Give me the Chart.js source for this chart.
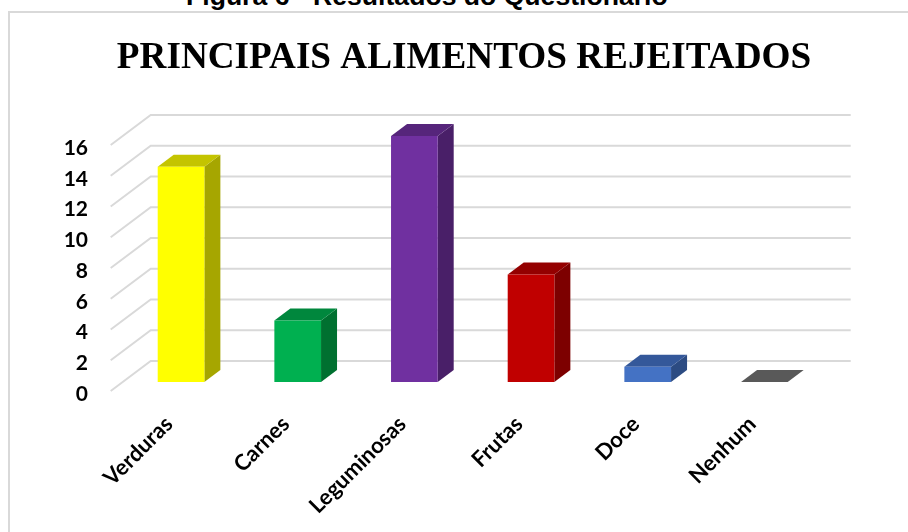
<!DOCTYPE html>
<html>
<head>
<meta charset="utf-8">
<style>
  html, body { margin: 0; padding: 0; background: #fff; overflow: hidden; }
  #caption { position: absolute; left: 186px; top: -19px; font: bold 26.6px "Liberation Sans"; color: #000; white-space: nowrap; }
  #frame { position: absolute; left: 8px; top: 11px; width: 900px; height: 521px; border-left: 2px solid #d9d9d9; border-top: 2px solid #d9d9d9; box-sizing: border-box; }
  #wrap { position: absolute; left: 0; top: 0; width: 908px; height: 532px; }
</style>
<script src="https://cdn.jsdelivr.net/npm/chart.js@4"></script>
</head>
<body>
<div id="caption">Figura 6 - Resultados do Questionário</div>
<div id="frame"></div>
<div id="wrap"><canvas id="myChart" width="908" height="532"></canvas></div>
<script>
var categories = ["Verduras", "Carnes", "Leguminosas", "Frutas", "Doce", "Nenhum"];
var values = [14, 4, 16, 7, 1, 0];
var frontColors = ["#ffff00", "#00b050", "#7030a0", "#c00000", "#4472c4", "#7f7f7f"];
var topColors = ["#c4c400", "#00873d", "#56257b", "#940000", "#34589a", "#595959"];
var sideColors = ["#a6a600", "#007030", "#491f68", "#7d0000", "#2c4b82", "#4c4c4c"];

// depth of the bars and of the floor, in pixels
var barDepth = { x: 16, y: 12 };
var floorFront = { x: 12, y: 9 };
var floorBack = { x: 28, y: 21 };

var pseudo3d = {
  id: "pseudo3d",
  afterLayout: function (chart) {
    // title is centred on the frame, not on the plot
    chart.titleBlock.right = 928;
  },
  beforeDatasetsDraw: function (chart) {
    var ctx = chart.ctx;
    var area = chart.chartArea;
    var y = chart.scales.y;
    // back wall lines and the diagonals on the left side
    ctx.save();
    ctx.strokeStyle = "#d9d9d9";
    ctx.lineWidth = 2;
    y.ticks.forEach(function (t) {
      var py = y.getPixelForValue(t.value);
      ctx.beginPath();
      ctx.moveTo(area.left - floorFront.x, py + floorFront.y);
      ctx.lineTo(area.left + floorBack.x, py - floorBack.y);
      ctx.lineTo(area.right + floorBack.x, py - floorBack.y);
      ctx.stroke();
    });
    ctx.restore();

    // side and top faces of every bar
    var bars = chart.getDatasetMeta(0).data;
    bars.forEach(function (bar, i) {
      var p = bar.getProps(["x", "y", "base", "width"], true);
      var l = p.x - p.width / 2;
      var r = p.x + p.width / 2;
      ctx.fillStyle = sideColors[i];
      ctx.beginPath();
      ctx.moveTo(r, p.y);
      ctx.lineTo(r + barDepth.x, p.y - barDepth.y);
      ctx.lineTo(r + barDepth.x, p.base - barDepth.y);
      ctx.lineTo(r, p.base);
      ctx.closePath();
      ctx.fill();
      ctx.fillStyle = topColors[i];
      ctx.beginPath();
      ctx.moveTo(l, p.y);
      ctx.lineTo(l + barDepth.x, p.y - barDepth.y);
      ctx.lineTo(r + barDepth.x, p.y - barDepth.y);
      ctx.lineTo(r, p.y);
      ctx.closePath();
      ctx.fill();
    });
  }
};

var ctx = document.getElementById("myChart").getContext("2d");
var chart = new Chart(ctx, {
  type: "bar",
  data: {
    labels: categories,
    datasets: [{
      data: values,
      backgroundColor: frontColors,
      categoryPercentage: 0.4,
      barPercentage: 1,
      borderWidth: 0
    }]
  },
  plugins: [pseudo3d],
  options: {
    responsive: false,
    animation: false,
    layout: { padding: { left: 0, right: 85.3, top: 0, bottom: 0 } },
    plugins: {
      legend: { display: false },
      tooltip: { enabled: false },
      title: {
        display: true,
        text: "PRINCIPAIS ALIMENTOS REJEITADOS",
        color: "#000",
        font: { family: "Liberation Serif", size: 37.2, weight: "bold", lineHeight: 1.2 },
        padding: { top: 36, bottom: 55.36 },
        align: "center"
      }
    },
    scales: {
      x: {
        afterFit: function (scale) { scale.height = 150; },
        grid: { display: false },
        border: { display: false },
        ticks: {
          color: "#000",
          font: { family: "Lato", size: 22, weight: "bold" },
          minRotation: 45,
          maxRotation: 45,
          padding: 21,
          labelOffset: -12
        }
      },
      y: {
        min: 0,
        max: 16,
        afterFit: function (scale) { scale.width = 122.7; },
        grid: { display: false, drawTicks: false },
        border: { display: false },
        ticks: {
          stepSize: 2,
          color: "#000",
          font: { family: "Lato", size: 21, weight: "bold" },
          padding: 34.7,
          labelOffset: 12
        }
      }
    }
  }
});
</script>
</body>
</html>
